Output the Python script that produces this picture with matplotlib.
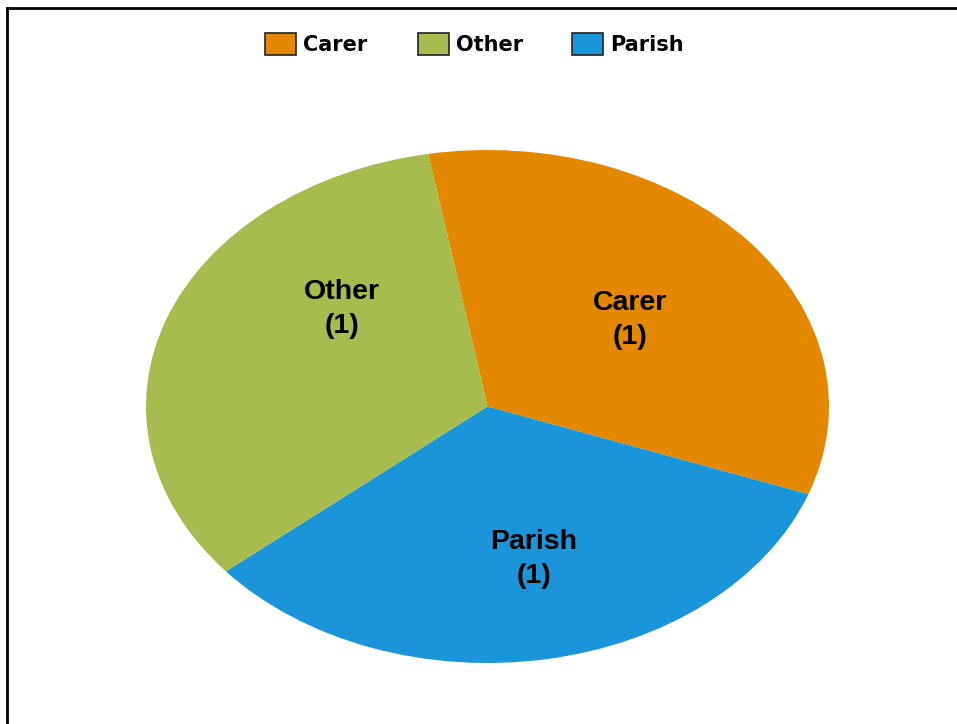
import matplotlib.pyplot as plt
from matplotlib.patches import Rectangle
from matplotlib.lines import Line2D

labels = ["Carer", "Parish", "Other"]
values = [1, 1, 1]
colors = ["#E38800", "#1B95D9", "#A6BC4E"]
legend_order = ["Carer", "Other", "Parish"]

W, H = 957, 724
fig = plt.figure(figsize=(W / 100, H / 100), dpi=100)

# pie is an ellipse: box from x 146..829, y 150..663 (pixels from top)
ax = fig.add_axes([146 / W, (H - 663) / H, 683 / W, 513 / H])
wedges, _ = ax.pie(values, colors=colors, startangle=100, counterclock=False,
                   wedgeprops=dict(linewidth=0))
ax.set_aspect("auto")
ax.set_xlim(-1, 1)
ax.set_ylim(-1, 1)
ax.axis("off")

# slice labels (pixel positions converted to data coords)
def px(x, y):
    return ((x - 146) / 683 * 2 - 1, 1 - (y - 150) / 513 * 2)

label_pos = {"Carer": (630, 320), "Other": (342, 309), "Parish": (534, 559)}
for lab, v in zip(labels, values):
    x, y = px(*label_pos[lab])
    ax.text(x, y, f"{lab}\n({v})", ha="center", va="center", fontsize=20.5,
            fontweight="bold", family="Liberation Sans", linespacing=1.38)

# legend drawn by hand
box_x = {"Carer": 265, "Other": 418, "Parish": 572}
for lab in legend_order:
    c = colors[labels.index(lab)]
    bx = box_x[lab]
    fig.patches.append(Rectangle((bx / W, (H - 55) / H), 31 / W, 22 / H,
                                 transform=fig.transFigure, facecolor=c,
                                 edgecolor="#222222", linewidth=1.2))
    fig.text((bx + 38) / W, (H - 45) / H, lab, ha="left", va="center",
             fontsize=15, fontweight="bold", family="DejaVu Sans")

# frame lines on left and top
fig.lines.append(Line2D([7 / W, 7 / W], [0, (H - 8) / H], transform=fig.transFigure,
                        color="black", linewidth=2))
fig.lines.append(Line2D([7 / W, 1], [(H - 8) / H, (H - 8) / H], transform=fig.transFigure,
                        color="black", linewidth=2))

fig.savefig("out.png", dpi=100, facecolor="white")
